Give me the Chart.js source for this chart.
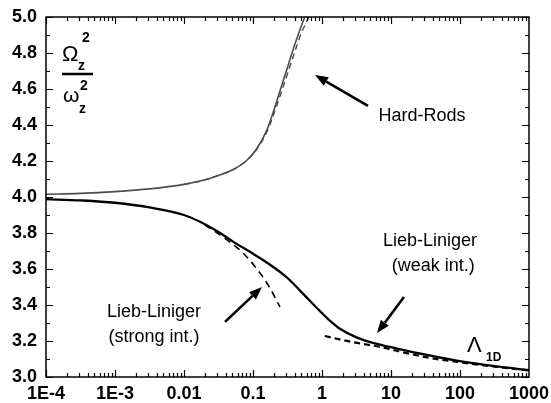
<!DOCTYPE html>
<html><head><meta charset="utf-8">
<script src="https://cdn.jsdelivr.net/npm/chart.js@4.4.1/dist/chart.umd.min.js"></script>
<style>html,body{margin:0;padding:0;background:#fff}#wrap{width:551px;height:403px;position:relative}</style>
</head><body><div id="wrap"><canvas id="c"></canvas></div>
<script>
// ---- data ----
const xTickValues = [1e-4, 1e-3, 0.01, 0.1, 1, 10, 100, 1000];
const xTickLabels = ['1E-4', '1E-3', '0.01', '0.1', '1', '10', '100', '1000'];
const yTickValues = [3.0, 3.2, 3.4, 3.6, 3.8, 4.0, 4.2, 4.4, 4.6, 4.8, 5.0];
const yTickLabels = ['3.0', '3.2', '3.4', '3.6', '3.8', '4.0', '4.2', '4.4', '4.6', '4.8', '5.0'];

// Hard-Rods (solid)
const hardRodsX = [1e-4, 3.16e-4, 1e-3, 3.16e-3, 0.01, 0.0178, 0.0316, 0.0501, 0.0794, 0.112, 0.158, 0.2, 0.251, 0.316, 0.398, 0.501, 0.562];
const hardRodsY = [4.015, 4.02, 4.03, 4.045, 4.07, 4.09, 4.12, 4.15, 4.2, 4.265, 4.37, 4.48, 4.6, 4.72, 4.84, 4.95, 5.0];
// Hard-Rods approximation (dashed)
const hardRodsApproxX = [0.01, 0.0178, 0.0316, 0.0501, 0.0794, 0.112, 0.158, 0.2, 0.251, 0.316, 0.398, 0.501, 0.646];
const hardRodsApproxY = [4.07, 4.09, 4.12, 4.15, 4.2, 4.262, 4.36, 4.46, 4.57, 4.685, 4.8, 4.91, 5.0];
// Lieb-Liniger (solid)
const liebX = [1e-4, 3.16e-4, 1e-3, 3.16e-3, 0.01, 0.0171, 0.0316, 0.0513, 0.1, 0.16, 0.316, 0.48, 1, 1.31, 1.82, 3.16, 5.62, 12.2, 31.6, 110, 316, 1000];
const liebY = [3.988, 3.981, 3.968, 3.942, 3.9, 3.862, 3.805, 3.752, 3.685, 3.635, 3.55, 3.48, 3.355, 3.312, 3.268, 3.22, 3.188, 3.158, 3.124, 3.085, 3.06, 3.038];
// Lieb-Liniger strong-interaction expansion (dashed)
const strongX = [0.02, 0.0367, 0.0716, 0.126, 0.176, 0.246];
const strongY = [3.846, 3.778, 3.689, 3.578, 3.494, 3.389];
// Lieb-Liniger weak-interaction expansion (dashed)
const weakX = [1.1, 2, 3.5, 6.93, 15, 36.7, 110, 316, 1000];
const weakY = [3.228, 3.205, 3.187, 3.167, 3.137, 3.106, 3.08, 3.058, 3.036];

const pts = (xs, ys) => xs.map((x, i) => ({x, y: ys[i]}));
const FONT = '"Liberation Sans", Arial, sans-serif';

const decoPlugin = {
  id: 'deco',
  afterDraw(chart) {
    const ctx = chart.ctx, a = chart.chartArea, xs = chart.scales.x, ys = chart.scales.y;
    ctx.save();
    ctx.strokeStyle = '#000'; ctx.lineWidth = 1.5;
    ctx.strokeRect(a.left, a.top, a.right - a.left, a.bottom - a.top);
    ctx.lineWidth = 1.2;
    for (let d = -4; d <= 2; d++) {
      for (let k = 1; k <= 9; k++) {
        const v = k * Math.pow(10, d);
        const px = Math.round(xs.getPixelForValue(v)) + 0.5;
        const len = k === 1 ? 7 : 4;
        ctx.beginPath();
        ctx.moveTo(px, a.bottom); ctx.lineTo(px, a.bottom - len);
        ctx.moveTo(px, a.top); ctx.lineTo(px, a.top + len);
        ctx.stroke();
      }
    }
    for (let i = 0; i <= 20; i++) {
      const v = 3 + i * 0.1;
      const py = Math.round(ys.getPixelForValue(v)) + 0.5;
      const len = i % 2 === 0 ? 7 : 4;
      ctx.beginPath();
      ctx.moveTo(a.left, py); ctx.lineTo(a.left + len, py);
      ctx.moveTo(a.right, py); ctx.lineTo(a.right - len, py);
      ctx.stroke();
    }
    const P = (x, y) => [xs.getPixelForValue(x), ys.getPixelForValue(y)];
    function arrow(x1, y1, x2, y2) {
      const [ax, ay] = P(x1, y1), [bx, by] = P(x2, y2);
      const ang = Math.atan2(by - ay, bx - ax), hl = 13, hw = 5;
      const ex = bx - hl * Math.cos(ang), ey = by - hl * Math.sin(ang);
      ctx.strokeStyle = '#000'; ctx.fillStyle = '#000'; ctx.lineWidth = 2.6;
      ctx.beginPath(); ctx.moveTo(ax, ay); ctx.lineTo(ex, ey); ctx.stroke();
      ctx.beginPath();
      ctx.moveTo(bx, by);
      ctx.lineTo(ex + hw * Math.sin(ang), ey - hw * Math.cos(ang));
      ctx.lineTo(ex - hw * Math.sin(ang), ey + hw * Math.cos(ang));
      ctx.closePath(); ctx.fill();
    }
    arrow(4.64, 4.506, 0.792, 4.678);
    arrow(15.4, 3.444, 6.27, 3.244);
    arrow(0.0393, 3.306, 0.135, 3.50);
    ctx.fillStyle = '#000'; ctx.textAlign = 'center'; ctx.textBaseline = 'middle';
    ctx.font = '18px ' + FONT;
    let p;
    p = P(28.1, 4.45); ctx.fillText('Hard-Rods', p[0], p[1]);
    p = P(36.7, 3.756); ctx.fillText('Lieb-Liniger', p[0], p[1]);
    p = P(41, 3.617); ctx.fillText('(weak int.)', p[0], p[1]);
    p = P(0.00367, 3.361); ctx.fillText('Lieb-Liniger', p[0], p[1]);
    p = P(0.00367, 3.222); ctx.fillText('(strong int.)', p[0], p[1]);
    ctx.textAlign = 'left'; ctx.textBaseline = 'alphabetic';
    ctx.font = '22px ' + FONT; ctx.fillText('\u039B', a.right - 62, a.bottom - 25);
    ctx.font = 'bold 12px ' + FONT; ctx.fillText('1D', a.right - 43, a.bottom - 16);
    const L = a.left, T = a.top;
    ctx.font = '22px ' + FONT; ctx.fillText('\u03A9', L + 16, T + 44);
    ctx.font = 'bold 14px ' + FONT; ctx.fillText('2', L + 36, T + 25);
    ctx.fillText('z', L + 32, T + 53);
    ctx.lineWidth = 2.5; ctx.beginPath(); ctx.moveTo(L + 16, T + 57); ctx.lineTo(L + 47, T + 57); ctx.stroke();
    ctx.font = '21px ' + FONT; ctx.fillText('\u03C9', L + 17, T + 85);
    ctx.font = 'bold 14px ' + FONT; ctx.fillText('2', L + 34, T + 73);
    ctx.fillText('z', L + 33, T + 96);
    ctx.restore();
  }
};

new Chart(document.getElementById('c'), {
  type: 'line',
  data: {
    datasets: [
      {data: pts(hardRodsX, hardRodsY), borderColor: '#4d4d4d', borderWidth: 1.6},
      {data: pts(hardRodsApproxX, hardRodsApproxY), borderColor: '#4d4d4d', borderWidth: 1.4, borderDash: [6, 4]},
      {data: pts(liebX, liebY), borderColor: '#000', borderWidth: 2.3},
      {data: pts(strongX, strongY), borderColor: '#000', borderWidth: 1.6, borderDash: [7, 5]},
      {data: pts(weakX, weakY), borderColor: '#000', borderWidth: 2.2, borderDash: [6, 4]}
    ]
  },
  options: {
    responsive: true, maintainAspectRatio: false, animation: false,
    elements: {point: {radius: 0}, line: {cubicInterpolationMode: 'monotone', fill: false}},
    layout: {padding: {left: 0, right: 22, top: 17, bottom: 0}},
    plugins: {legend: {display: false}, tooltip: {enabled: false}},
    scales: {
      x: {
        type: 'logarithmic', min: 1e-4, max: 1000,
        grid: {display: false, drawTicks: false}, border: {display: false},
        afterBuildTicks: s => { s.ticks = xTickValues.map(v => ({value: v})); },
        afterFit: s => { s.height = 26; s.paddingLeft = 0; s.paddingRight = 0; },
        ticks: {
          autoSkip: false, maxRotation: 0, padding: 6, color: '#000',
          font: {family: FONT, size: 18, weight: 'bold'},
          callback: v => { const i = xTickValues.findIndex(t => Math.abs(Math.log10(t) - Math.log10(v)) < 1e-6); return i >= 0 ? xTickLabels[i] : ''; }
        }
      },
      y: {
        min: 3, max: 5,
        grid: {display: false, drawTicks: false}, border: {display: false},
        afterBuildTicks: s => { s.ticks = yTickValues.map(v => ({value: v})); },
        afterFit: s => { s.width = 46; s.paddingTop = 0; s.paddingBottom = 0; },
        ticks: {
          padding: 9, color: '#000',
          font: {family: FONT, size: 18, weight: 'bold'},
          callback: v => { const i = yTickValues.findIndex(t => Math.abs(t - v) < 1e-6); return i >= 0 ? yTickLabels[i] : ''; }
        }
      }
    }
  },
  plugins: [decoPlugin]
});
</script>
</body></html>
